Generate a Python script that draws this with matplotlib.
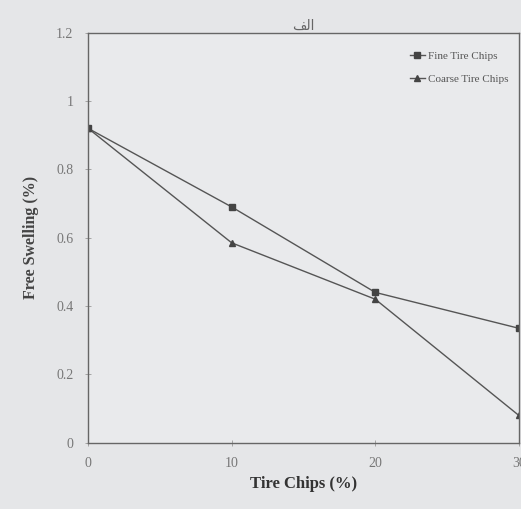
import matplotlib
matplotlib.use("Agg")
import matplotlib.pyplot as plt

# data
tire_chips = [0, 10, 20, 30]
fine = [0.92, 0.69, 0.44, 0.335]
coarse = [0.92, 0.585, 0.42, 0.08]
title = "\ufed2\ufedf\ufe8d"  # "الف" in presentation forms, visual order

plt.rcParams['font.family'] = ['Liberation Serif', 'DejaVu Sans']

bg = '#e5e6e8'
fig = plt.figure(figsize=(5.21, 5.09), dpi=100, facecolor=bg)
ax = fig.add_axes([0.169, 0.130, 0.827, 0.806], facecolor='#e9eaec')

ax.plot(tire_chips, fine, color='#555555', lw=1.0, marker='s', ms=5,
        mfc='#444444', mec='#444444', label='Fine Tire Chips')
ax.plot(tire_chips, coarse, color='#555555', lw=1.0, marker='^', ms=5,
        mfc='#444444', mec='#444444', label='Coarse Tire Chips')

ax.set_xlim(0, 30)
ax.set_ylim(0, 1.2)
ax.set_xticks([0, 10, 20, 30])
ax.set_yticks([0, 0.2, 0.4, 0.6, 0.8, 1, 1.2])
ax.set_yticklabels(['0', '0.2', '0.4', '0.6', '0.8', '1', '1.2'])
ax.tick_params(direction='inout', length=5, width=0.6, colors='#999999',
               labelcolor='#777777', labelsize=10, pad=8)

for s in ax.spines.values():
    s.set_color('#666666')
    s.set_linewidth(1.0)

ax.set_xlabel('Tire Chips (%)', fontsize=12, fontweight='bold', color='#333333', labelpad=4)
ax.set_ylabel('Free Swelling (%)', fontsize=11.5, fontweight='bold', color='#444444', labelpad=12)
ax.set_title(title, fontsize=10, color='#666666', pad=2, family=['DejaVu Sans'])

ax.legend(loc='upper right', frameon=False, fontsize=8, labelcolor='#555555',
          handlelength=1.4, handletextpad=0.3, labelspacing=1.2,
          bbox_to_anchor=(1.0, 0.98))

fig.savefig('out.png', dpi=100, facecolor=bg)
